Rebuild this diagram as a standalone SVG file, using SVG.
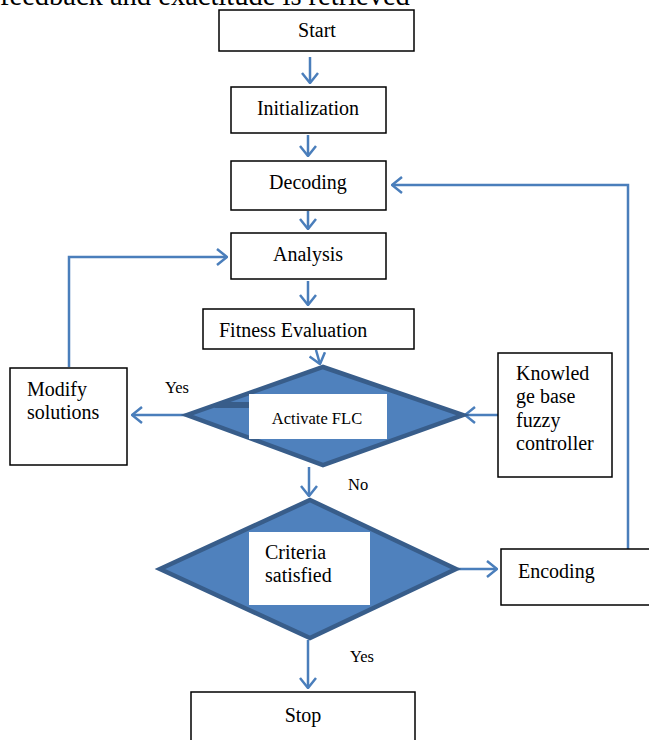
<svg xmlns="http://www.w3.org/2000/svg" width="649" height="740" viewBox="0 0 649 740">
<defs>
<style>
.box{fill:#fff;stroke:#000;stroke-width:1.5}
.t{font-family:"Liberation Serif","Times New Roman",serif;font-size:20px;fill:#000}
.s{font-family:"Liberation Serif","Times New Roman",serif;font-size:16.5px;fill:#000}
.c{stroke:#4a7ebb;stroke-width:2.5;fill:none}
.dia{fill:#4f81bd;stroke:#385d8a;stroke-width:4.5;stroke-linejoin:miter}
</style>
<marker id="ah" viewBox="0 0 12 18" refX="11" refY="9" markerWidth="12" markerHeight="18" orient="auto" markerUnits="userSpaceOnUse">
<path d="M1,1 L11,9 L1,17" fill="none" stroke="#4a7ebb" stroke-width="2.5"/>
</marker>
</defs>
<rect width="649" height="740" fill="#fff"/>
<text class="t" x="0" y="5" style="font-size:28.5px">feedback and exactitude is retrieved</text>

<g id="connectors">
<line class="c" x1="310" y1="57" x2="310" y2="83" marker-end="url(#ah)"/>
<line class="c" x1="308" y1="135" x2="308" y2="156" marker-end="url(#ah)"/>
<line class="c" x1="308" y1="211" x2="308" y2="229" marker-end="url(#ah)"/>
<line class="c" x1="308" y1="281" x2="308" y2="305" marker-end="url(#ah)"/>
<line class="c" x1="316" y1="350" x2="320" y2="364" marker-end="url(#ah)"/>
<polyline class="c" points="69,367 69,257 227,257" marker-end="url(#ah)"/>
<polyline class="c" points="628,549 628,185 392,185" marker-end="url(#ah)"/>
<line class="c" x1="190" y1="415" x2="132" y2="415" marker-end="url(#ah)"/>
<line class="c" x1="498" y1="415" x2="465" y2="415" marker-end="url(#ah)"/>
<line class="c" x1="309" y1="467" x2="309" y2="496" marker-end="url(#ah)"/>
<line class="c" x1="458" y1="569" x2="497" y2="569" marker-end="url(#ah)"/>
<line class="c" x1="308" y1="640" x2="308" y2="688" marker-end="url(#ah)"/>
<text class="s" x="165" y="393">Yes</text>
<text class="s" x="348" y="490">No</text>
<text class="s" x="350" y="662">Yes</text>
</g>

<g id="start"><rect class="box" x="219" y="10" width="195" height="41"/><text class="t" x="317" y="37" text-anchor="middle">Start</text></g>
<g id="init"><rect class="box" x="231" y="87" width="155" height="46"/><text class="t" x="308" y="115" text-anchor="middle">Initialization</text></g>
<g id="decoding"><rect class="box" x="231" y="161" width="155" height="49"/><text class="t" x="308" y="189" text-anchor="middle">Decoding</text></g>
<g id="analysis"><rect class="box" x="231" y="233" width="155" height="46"/><text class="t" x="308" y="261" text-anchor="middle">Analysis</text></g>
<g id="fitness"><rect class="box" x="203" y="309" width="211" height="40"/><text class="t" x="219" y="337">Fitness Evaluation</text></g>

<g id="activate">
<polygon class="dia" points="323,367 463,415 323,465 187,415"/>
<polygon points="220,402 249,402 249,408 214,408" fill="#385d8a"/>
<rect x="249" y="394" width="138" height="45" fill="#fff"/>
<text class="s" x="317" y="424" text-anchor="middle">Activate FLC</text>
</g>

<g id="modify"><rect class="box" x="10" y="368" width="117" height="97"/><text class="t" x="27" y="396">Modify</text><text class="t" x="27" y="419">solutions</text></g>

<g id="knowledge"><rect class="box" x="498" y="353" width="114" height="124"/>
<text class="t" x="516" y="380">Knowled</text><text class="t" x="516" y="403">ge base</text><text class="t" x="516" y="427">fuzzy</text><text class="t" x="516" y="450">controller</text></g>

<g id="criteria">
<polygon class="dia" points="310,500 456,569 310,638 160,569"/>
<rect x="249" y="532" width="121" height="73" fill="#fff"/>
<text class="t" x="265" y="559">Criteria</text><text class="t" x="265" y="582">satisfied</text>
</g>

<g id="encoding"><rect class="box" x="501" y="549" width="150" height="56"/><text class="t" x="518" y="578">Encoding</text></g>

<g id="stop"><rect class="box" x="191" y="692" width="224" height="60"/><text class="t" x="303" y="722" text-anchor="middle">Stop</text></g>
</svg>
